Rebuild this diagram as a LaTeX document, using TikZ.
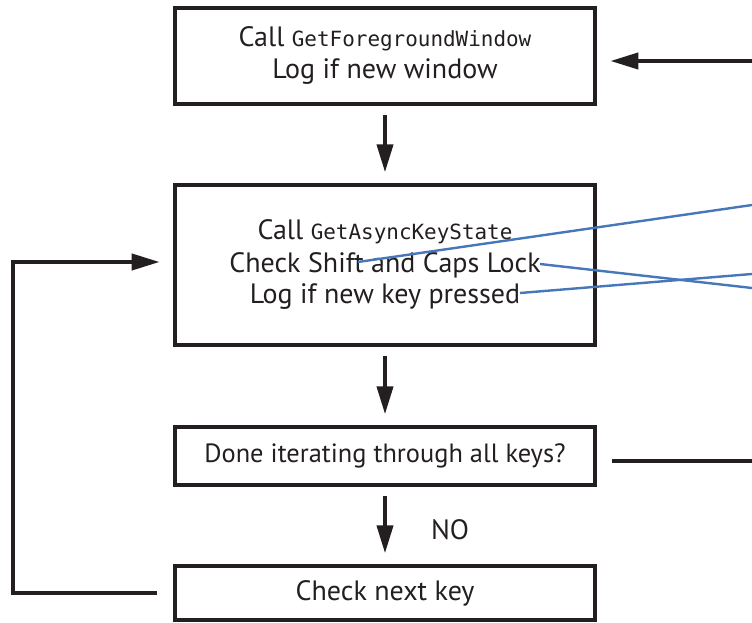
\documentclass[tikz,border=0pt]{standalone}
\usepackage{fontspec}
\setmainfont{PT Sans}
\setmonofont{DejaVu Sans Mono}
\usepackage{xcolor}
\definecolor{inkblack}{HTML}{231F20}
\definecolor{leaderblue}{HTML}{4677BA}
\usepackage{tikz}
\usetikzlibrary{arrows.meta, positioning, calc}

\newcommand{\apiname}[1]{{\fontsize{15.7}{24}\ttfamily #1}}

\tikzset{
    stepbox/.style={draw=inkblack, line width=3pt, align=center, inner sep=0pt,
        minimum width=315pt, font=\fontsize{21}{24}\selectfont, text=inkblack},
    flow/.style={draw=inkblack, line width=3pt, -{Triangle[length=21pt, width=12pt]}},
    plainline/.style={draw=inkblack, line width=3pt},
    leader/.style={draw=leaderblue, line width=1.8pt},
}

\begin{document}
\begin{tikzpicture}[x=0.75pt, y=-0.75pt]
    \useasboundingbox (0,0) rectangle (752,623);
    % Boxes
    \node[stepbox, minimum height=72pt] (fgwin) at (385,56) {Call \apiname{GetForegroundWindow}\\Log if new window};
    \node[stepbox, minimum height=120pt] (keystate) at (385,265) {Call \apiname{GetAsyncKeyState}\\Check Shift and Caps Lock\\Log if new key pressed};
    \node[stepbox, minimum height=43.5pt, font=\fontsize{19.8}{24}\selectfont] (donekeys) at (385,456) {Done iterating through all keys?};
    \node[stepbox, minimum height=40.5pt] (nextkey) at (385,593) {Check next key};
    \node[font=\fontsize{21}{24}\selectfont, text=inkblack] (nolabel) at (450,530) {NO};
    % Free ends
    \coordinate (fromR) at (752,61);
    \coordinate (toR) at (752,461);
    \coordinate (loopL) at (13,262);
    % Flow
    \draw[flow, shorten <=7pt, shorten >=8pt] (fgwin) -- (keystate);
    \draw[flow, shorten <=7pt, shorten >=8pt] (keystate) -- (donekeys);
    \draw[flow, shorten <=7pt, shorten >=8pt] (donekeys) -- (nextkey);
    \draw[flow, shorten <=12pt, shorten >=10pt] (nextkey.west) -| (loopL) -- (keystate.west |- loopL);
    \draw[flow, shorten >=10pt] (fromR) -- (fgwin.east |- fromR);
    \draw[plainline, shorten <=11.5pt] (donekeys.east |- toR) -- (toR);
    % Leader lines
    \coordinate (shiftpt) at (358,262);
    \coordinate (lockpt) at (540,264);
    \coordinate (presspt) at (520,293);
    \draw[leader] (shiftpt) -- (752,205);
    \draw[leader] (lockpt) -- (752,288);
    \draw[leader] (presspt) -- (752,274);
\end{tikzpicture}
\end{document}
